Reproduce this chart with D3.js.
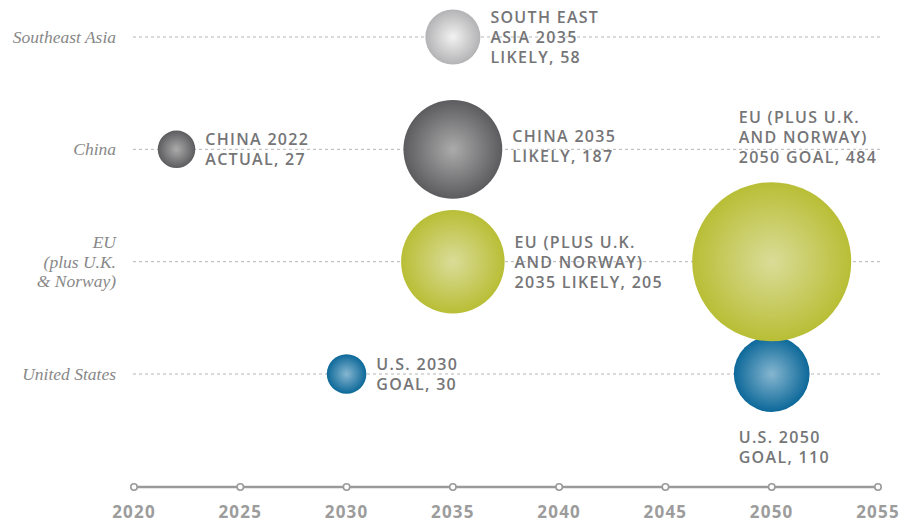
<!DOCTYPE html>
<html>
<head>
<meta charset="utf-8">
<script src="https://cdn.jsdelivr.net/npm/d3@7"></script>
<style>
	body{margin:0;background:#fff;}
	svg{display:block;}
</style>
</head>
<body>
<div id="chart"></div>
<script>
// rows (regions), top to bottom
let regions = ["Southeast Asia", "China", "EU (plus U.K. & Norway)", "United States"],
	regionLines = [["Southeast Asia"], ["China"], ["EU", "(plus U.K.", "& Norway)"], ["United States"]];

// each bubble: region, year, value (GW), label lines
let bubbleRegion = ["United States", "United States", "EU (plus U.K. & Norway)", "EU (plus U.K. & Norway)", "China", "China", "Southeast Asia"],
	bubbleYear = [2030, 2050, 2035, 2050, 2022, 2035, 2035],
	bubbleValue = [30, 110, 205, 484, 27, 187, 58],
	bubbleLabel = [
		["U.S. 2030", "GOAL, 30"],
		["U.S. 2050", "GOAL, 110"],
		["EU (PLUS U.K.", "AND NORWAY)", "2035 LIKELY, 205"],
		["EU (PLUS U.K.", "AND NORWAY)", "2050 GOAL, 484"],
		["CHINA 2022", "ACTUAL, 27"],
		["CHINA 2035", "LIKELY, 187"],
		["SOUTH EAST", "ASIA 2035", "LIKELY, 58"]
	],
	labelSide = ["right", "below", "right", "above", "right", "right", "right"];

let years = [2020, 2025, 2030, 2035, 2040, 2045, 2050, 2055];

let w = 901, h = 521,
	colors = {
		"Southeast Asia": ["#f2f2f2", "#b3b3b5"],
		"China": ["#ababab", "#5c5c5f"],
		"EU (plus U.K. & Norway)": ["#dadc98", "#b9be36"],
		"United States": ["#86b6d0", "#0c6899"]
	};

let svg = d3.select("#chart").append("svg").attr("width", w).attr("height", h);

let scaleX = d3.scaleLinear().domain([2020, 2055]).range([134, 878]),
	scaleY = d3.scalePoint().domain(regions).range([37, 374]),
	scaleR = d3.scaleSqrt().domain([0, 484]).range([0, 79.5]);

let defs = svg.append("defs");
regions.forEach(function(r, i){
	let g = defs.append("radialGradient").attr("id", "grad" + i)
		.attr("cx", "50%").attr("cy", "50%").attr("r", "50%");
	g.append("stop").attr("offset", "0%").attr("stop-color", colors[r][0]);
	g.append("stop").attr("offset", "100%").attr("stop-color", colors[r][1]);
});

// dashed guide lines
svg.append("g").selectAll("line").data(regions).join("line")
	.attr("x1", 133).attr("x2", 880)
	.attr("y1", d => scaleY(d)).attr("y2", d => scaleY(d))
	.attr("stroke", "#b5b5b5").attr("stroke-width", 1)
	.attr("stroke-dasharray", "3,3");

// row labels
let rowG = svg.append("g")
	.style("font-family", "'Liberation Serif', 'DejaVu Serif', serif")
	.style("font-style", "italic").style("font-size", "17.5px").attr("fill", "#888");
regions.forEach(function(r, i){
	let lines = regionLines[i],
		t = rowG.append("text").attr("text-anchor", "end")
			.attr("x", 116).attr("y", scaleY(r) - (lines.length - 1) * 19.5 / 2)
			.attr("dominant-baseline", "central");
	lines.forEach(function(l, li){
		t.append("tspan").attr("x", 116).attr("dy", li === 0 ? 0 : 19.5).text(l);
	});
});

// bubbles
let bubbles = bubbleValue.map(function(v, i){
	return {region: bubbleRegion[i], year: bubbleYear[i], value: v, label: bubbleLabel[i], side: labelSide[i]};
});

svg.append("g").selectAll("circle").data(bubbles).join("circle")
	.attr("cx", d => scaleX(d.year)).attr("cy", d => scaleY(d.region))
	.attr("r", d => scaleR(d.value))
	.attr("fill", d => "url(#grad" + regions.indexOf(d.region) + ")");

// bubble labels
let lh = 20;
let labG = svg.append("g")
	.style("font-family", "'Open Sans', sans-serif").style("font-weight", 600)
	.style("font-size", "16px").style("letter-spacing", "1.3px").attr("fill", "#757577");
bubbles.forEach(function(d){
	let cx = scaleX(d.year), cy = scaleY(d.region), r = scaleR(d.value),
		n = d.label.length, x, y0;
	if(d.side === "right"){
		x = cx + r + 10;
		y0 = cy - (n - 1) * lh / 2;
		if(n === 2 && d.region === "China" && d.year === 2035) y0 -= 3;
	}else if(d.side === "above"){
		x = cx - 33;
		y0 = cy - r - 25 - (n - 1) * lh;
	}else{
		x = cx - 33;
		y0 = cy + r + 25;
	}
	let t = labG.append("text").attr("x", x).attr("y", y0).attr("dominant-baseline", "central");
	d.label.forEach(function(l, li){
		t.append("tspan").attr("x", x).attr("dy", li === 0 ? 0 : lh).text(l);
	});
});

// time axis
let axisG = svg.append("g");
axisG.append("line").attr("x1", scaleX(2020)).attr("x2", scaleX(2055))
	.attr("y1", 487).attr("y2", 487).attr("stroke", "#9a9a9a").attr("stroke-width", 2.5);
axisG.selectAll("circle").data(years).join("circle")
	.attr("cx", d => scaleX(d)).attr("cy", 487).attr("r", 3.2)
	.attr("fill", "#fff").attr("stroke", "#9a9a9a").attr("stroke-width", 1.6);
axisG.selectAll("text").data(years).join("text")
	.attr("x", d => scaleX(d)).attr("y", 511).attr("text-anchor", "middle")
	.attr("dominant-baseline", "central")
	.style("font-family", "'Open Sans', sans-serif").style("font-weight", 700)
	.style("font-size", "17px").style("letter-spacing", "1.2px").attr("fill", "#9c9c9c")
	.text(d => d);
</script>
</body>
</html>
